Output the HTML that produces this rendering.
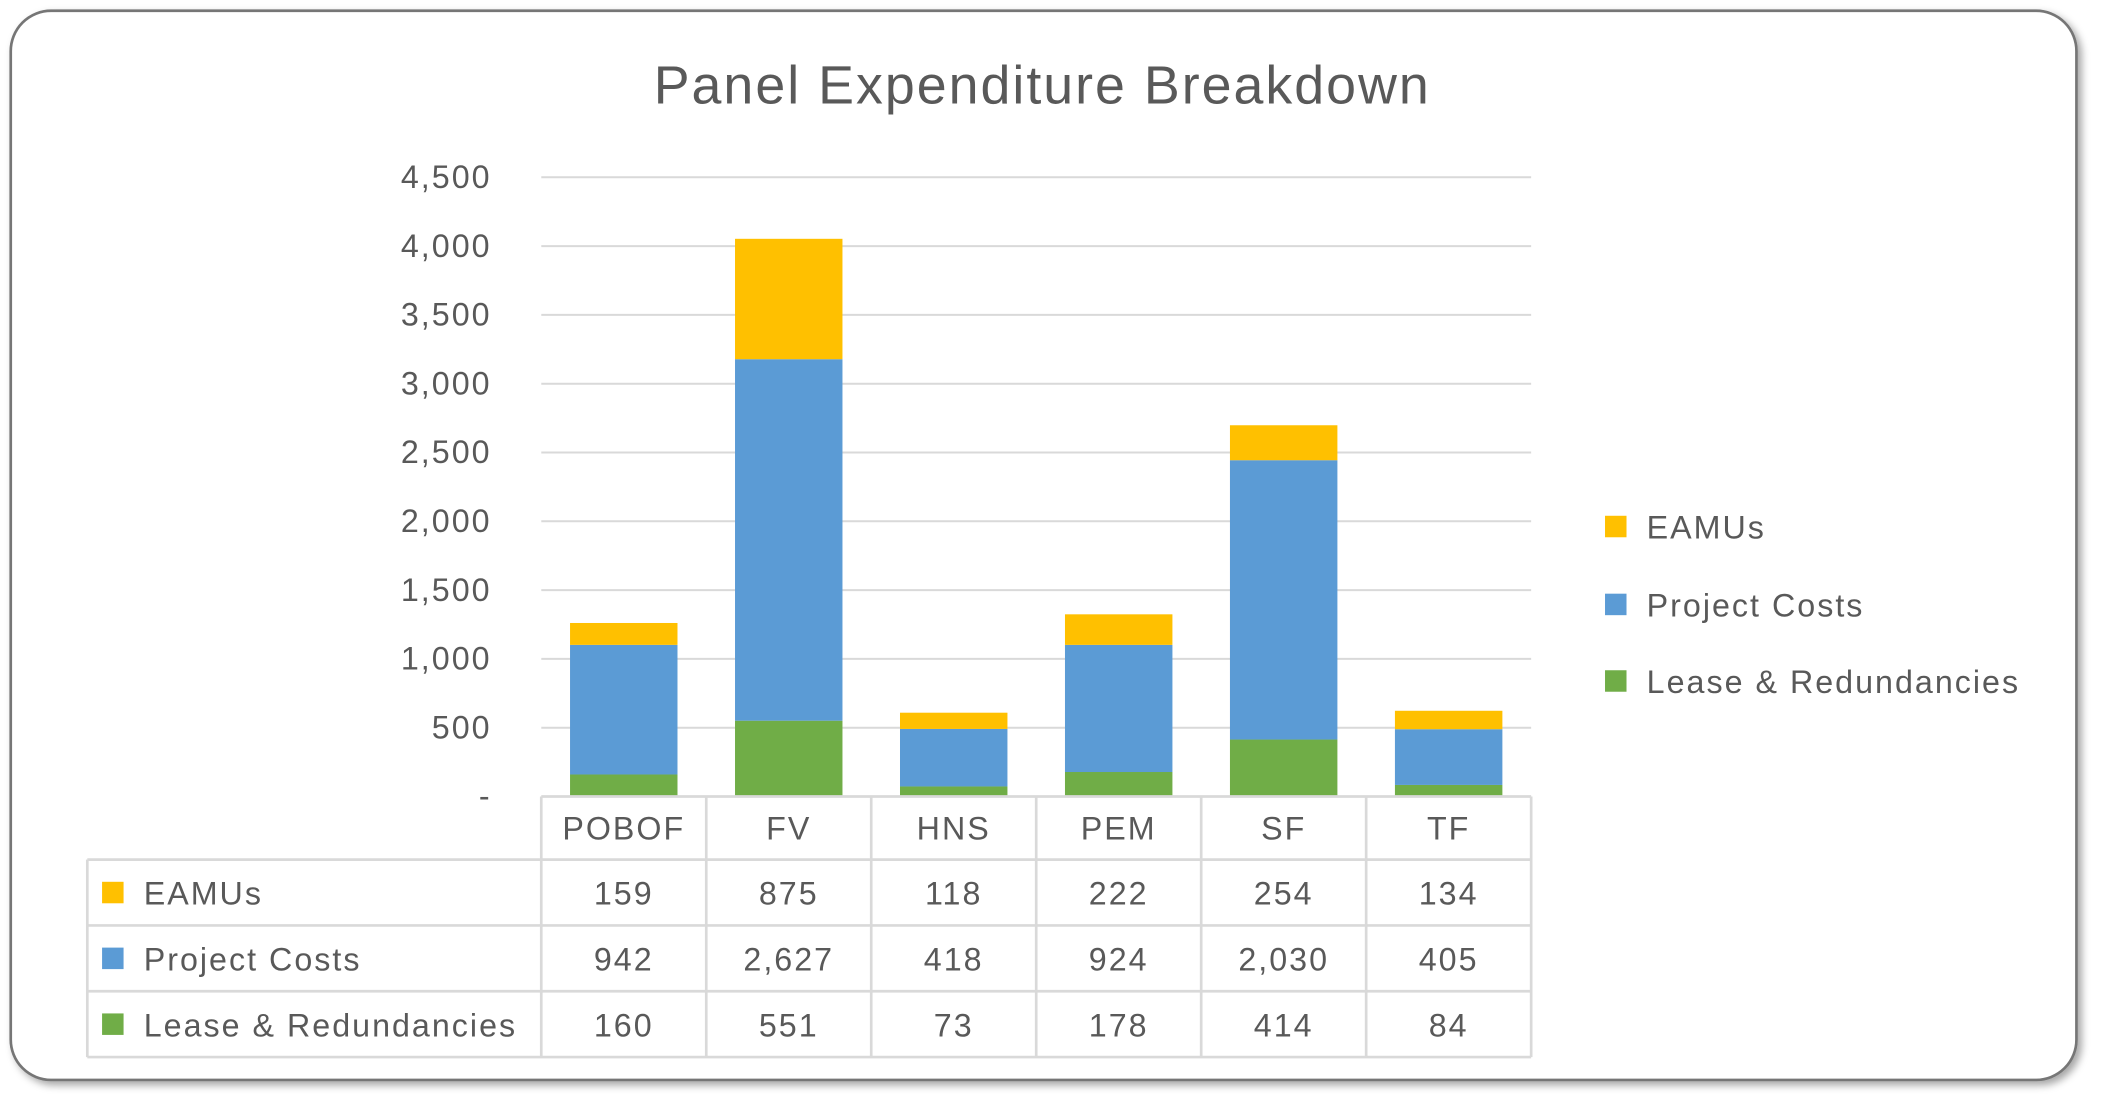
<!DOCTYPE html>
<html><head><meta charset="utf-8"><style>
html,body{margin:0;padding:0;background:#fff;}
svg{display:block;}
text{font-family:"Liberation Sans",sans-serif;fill:#595959;letter-spacing:1.5px;}
</style></head><body>
<svg id="chart" width="2106" height="1110" viewBox="0 0 1568 826.4" preserveAspectRatio="none" xmlns="http://www.w3.org/2000/svg">
<defs><filter id="sh" x="-5%" y="-5%" width="110%" height="110%"><feDropShadow dx="3" dy="3" stdDeviation="3" flood-color="#000" flood-opacity="0.35"/></filter></defs>
<rect x="8" y="8" width="1538" height="796" rx="30" ry="30" fill="#fff" stroke="#767676" stroke-width="2" filter="url(#sh)"/>
<text x="776" y="77" font-size="40" text-anchor="middle">Panel Expenditure Breakdown</text>
<g id="grid"></g><g id="bars"></g><g id="table"></g><g id="legend"></g>
</svg>
<script>
const categories=["POBOF","FV","HNS","PEM","SF","TF"];
const seriesNames=["EAMUs","Project Costs","Lease & Redundancies"];
const eamus=[159,875,118,222,254,134];
const projectCosts=[942,2627,418,924,2030,405];
const lease=[160,551,73,178,414,84];
const ticks=[0,500,1000,1500,2000,2500,3000,3500,4000,4500];
const colors=["#FFC000","#5B9BD5","#70AD47"];
const NS="http://www.w3.org/2000/svg";
const X0=403,X1=1140,Y0=593,Y1=132,MAX=4500;
const band=(X1-X0)/categories.length;
const y=v=>Y0-(v/MAX)*(Y0-Y1);
const xc=i=>X0+band*(i+0.5);
function mk(t,a,p,txt){const e=document.createElementNS(NS,t);for(const k in a)e.setAttribute(k,a[k]);if(txt!==undefined)e.textContent=txt;p.appendChild(e);return e;}
const grid=document.getElementById('grid');
ticks.forEach(t=>{
  if(t>0){const l=mk('line',{x1:X0,x2:X1,y1:y(t),y2:y(t),stroke:'#d9d9d9','stroke-width':1.5},grid);
  
  }
  const tx=mk('text',{x:366,y:y(t)+8,'font-size':24,'text-anchor':'end'},grid,t===0?'-':t.toLocaleString('en-US'));
  
  
});
const bars=document.getElementById('bars');
const stackOrder=[lease,projectCosts,eamus];const stackColors=[colors[2],colors[1],colors[0]];
const stackNames=['lease','project-costs','eamus'];
categories.forEach((c,i)=>{
  let base=0;
  stackOrder.forEach((s,k)=>{
    const r=mk('rect',{x:xc(i)-40,width:80,y:y(base+s[i]),height:y(base)-y(base+s[i]),fill:stackColors[k]},bars);
    
    
    base+=s[i];
  });
});
const tb=document.getElementById('table');
const rows=[640,689,738,787];const L=65;
const ln=(a)=>{const l=mk('line',Object.assign({stroke:'#d9d9d9','stroke-width':2},a),tb);};
ln({x1:X0,x2:X1,y1:Y0,y2:Y0});
rows.forEach(r=>ln({x1:L,x2:X1,y1:r,y2:r}));
ln({x1:L,x2:L,y1:640,y2:787});
for(let i=0;i<=categories.length;i++)ln({x1:X0+band*i,x2:X0+band*i,y1:Y0,y2:787});
categories.forEach((c,i)=>{const t=mk('text',{x:xc(i),y:625,'font-size':24,'text-anchor':'middle'},tb,c);
  
  });
const data=[eamus,projectCosts,lease];
data.forEach((s,k)=>{
  const cy=(rows[k]+rows[k+1])/2;
  const sq=mk('rect',{x:76,y:cy-8,width:16,height:16,fill:colors[k]},tb);
  
  
  const n=mk('text',{x:107,y:cy+9,'font-size':24},tb,seriesNames[k]);
  
  
  s.forEach((v,i)=>{const t=mk('text',{x:xc(i),y:cy+9,'font-size':24,'text-anchor':'middle'},tb,v.toLocaleString('en-US'));
    
    });
});
const lg=document.getElementById('legend');
const ly=[392,450,507];
seriesNames.forEach((n,k)=>{
  const r=mk('rect',{x:1195,y:ly[k]-8,width:16,height:16,fill:colors[k]},lg);
  
  
  const t=mk('text',{x:1226,y:ly[k]+9,'font-size':24},lg,n);
  
  
});
</script>
</body></html>
